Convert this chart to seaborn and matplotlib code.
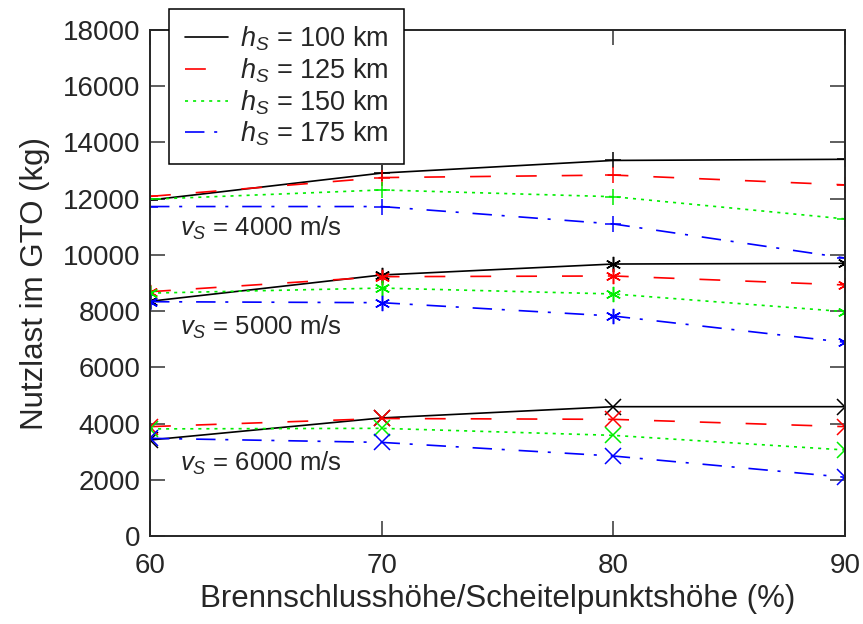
import matplotlib
matplotlib.use("Agg")
import matplotlib.pyplot as plt
from matplotlib.lines import Line2D
import seaborn as sns
import pandas as pd

# ---- data ----
x_vals = [60, 70, 80, 90]
heights = ["100", "125", "150", "175"]

v4000_h100 = [11950, 12910, 13360, 13400]
v4000_h125 = [12080, 12750, 12840, 12490]
v4000_h150 = [11980, 12310, 12070, 11280]
v4000_h175 = [11720, 11720, 11100, 9890]

v5000_h100 = [8350, 9285, 9675, 9700]
v5000_h125 = [8690, 9225, 9250, 8930]
v5000_h150 = [8640, 8820, 8610, 7980]
v5000_h175 = [8335, 8300, 7825, 6890]

v6000_h100 = [3415, 4200, 4600, 4600]
v6000_h125 = [3890, 4180, 4150, 3890]
v6000_h150 = [3810, 3830, 3580, 3060]
v6000_h175 = [3475, 3330, 2845, 2090]

speed_labels = ["4000", "5000", "6000"]
speed_label_y = [10960, 7435, 2600]

groups = {
    "4000": [v4000_h100, v4000_h125, v4000_h150, v4000_h175],
    "5000": [v5000_h100, v5000_h125, v5000_h150, v5000_h175],
    "6000": [v6000_h100, v6000_h125, v6000_h150, v6000_h175],
}

rows = []
for v, series in groups.items():
    for h, vals in zip(heights, series):
        for xv, yv in zip(x_vals, vals):
            rows.append({"v": v, "h": h, "x": xv, "y": yv})
df = pd.DataFrame(rows)

# ---- style ----
sns.set_style("ticks")
plt.rcParams["font.family"] = ["Liberation Sans", "DejaVu Sans"]
plt.rcParams["mathtext.fontset"] = "custom"
plt.rcParams["mathtext.rm"] = "Liberation Sans"
plt.rcParams["mathtext.it"] = "Liberation Sans:italic"
plt.rcParams["lines.scale_dashes"] = False

colors = {"100": "black", "125": "#ff0000", "150": "#00ee00", "175": "#0000ff"}
linestyles = {
    "100": "-",
    "125": (0, (15, 18)),
    "150": (0, (2.2, 3.6)),
    "175": (0, (14, 7, 2.2, 10)),
}
markers = {"4000": "+", "5000": (6, 2, 0), "6000": "x"}

fig = plt.figure(figsize=(8.63, 6.24), dpi=100)
ax = fig.add_axes([150 / 863, 1 - 536 / 624, 695 / 863, 506 / 624])

for v in speed_labels:
    for h in heights:
        sub = df[(df["v"] == v) & (df["h"] == h)]
        sns.lineplot(data=sub, x="x", y="y", ax=ax, color=colors[h],
                     linestyle=linestyles[h], linewidth=1.2,
                     marker=markers[v], markersize=11, markeredgewidth=1.1,
                     markeredgecolor=colors[h], legend=False)

ax.set_xlim(60, 90)
ax.set_ylim(0, 18000)
ax.set_xticks([60, 70, 80, 90])
ax.set_yticks(range(0, 18001, 2000))
ax.tick_params(direction="in", length=11, width=1.1, top=True, right=True,
               labelsize=20, color="#333333")
ax.tick_params(axis="x", pad=12)
ax.tick_params(axis="y", pad=7)
for s in ax.spines.values():
    s.set_linewidth(1.4)
ax.set_xlabel("Brennschlusshöhe/Scheitelpunktshöhe (%)", fontsize=22.5, labelpad=4)
ax.set_ylabel("Nutzlast im GTO (kg)", fontsize=22.5, labelpad=9)

for lab, yy in zip(speed_labels, speed_label_y):
    ax.text(61.3, yy, "$v_S$ = %s m/s" % lab, fontsize=18.5, va="center", ha="left")

handles = [Line2D([], [], color=colors[h], linestyle=linestyles[h], linewidth=1.2)
           for h in heights]
labels = ["$h_S$ = %s km" % h for h in heights]
leg = ax.legend(handles, labels, loc="upper left", bbox_to_anchor=(19 / 695, 1 + 21 / 506),
                fontsize=19.5, frameon=True, fancybox=False, framealpha=1,
                edgecolor="black", handlelength=1.6, handletextpad=0.45,
                labelspacing=0.12, borderpad=0.58, borderaxespad=0)
leg.get_frame().set_linewidth(1.1)

fig.savefig("out.png", dpi=100)
